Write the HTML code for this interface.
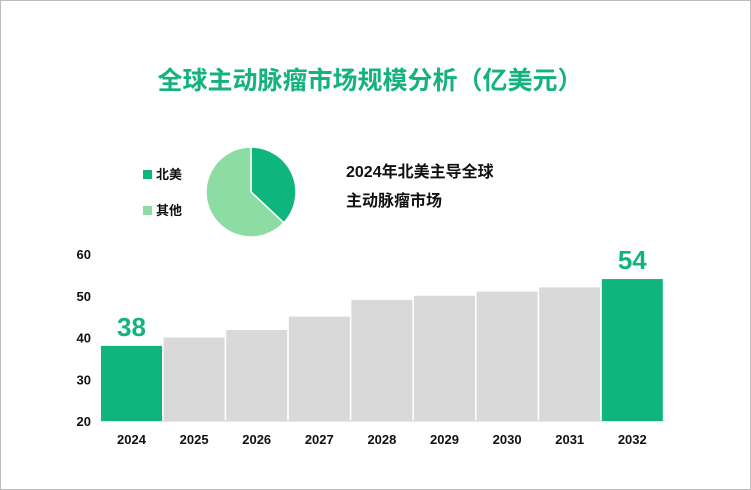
<!DOCTYPE html>
<html><head><meta charset="utf-8"><style>
body{margin:0;background:#fff;font-family:"Liberation Sans","Noto Sans CJK SC",sans-serif;}
#wrap{position:relative;width:749px;height:488px;border:1px solid #bbb;background:#fff;overflow:hidden;}
</style></head><body>
<div id="wrap">
<svg id="svg" width="749" height="488">
<text x="369" y="88" text-anchor="middle" font-size="25" font-weight="bold" fill="#14b27c">全球主动脉瘤市场规模分析（亿美元）</text>
<rect x="142" y="169" width="9" height="9" fill="#10b57d"/>
<text x="155" y="178" font-size="13" font-weight="bold" fill="#111">北美</text>
<rect x="142" y="205" width="9" height="9" fill="#8cdca4"/>
<text x="155" y="214" font-size="13" font-weight="bold" fill="#111">其他</text>
<text x="345" y="176" font-size="16" font-weight="bold" fill="#111">2024年北美主导全球</text>
<text x="345" y="205" font-size="16" font-weight="bold" fill="#111">主动脉瘤市场</text>
<g id="pie"></g><g id="axis"></g><g id="bars"></g>
</svg></div>
<script>
const pieLabels=["北美","其他"];
const pieValues=[37,63];
const years=["2024","2025","2026","2027","2028","2029","2030","2031","2032"];
const values=[38,40,41.8,45,49,50,51,52,54];
const yTicks=[20,30,40,50,60];
const NS="http://www.w3.org/2000/svg";
function mk(t,a,p){const e=document.createElementNS(NS,t);for(const k in a)e.setAttribute(k,a[k]);p.appendChild(e);return e;}
const cx=250,cy=191,r=45,pie=document.getElementById('pie');
const tot=pieValues.reduce((a,b)=>a+b,0);let ang=0;const cols=["#10b57d","#8cdca4"];
pieValues.forEach((v,i)=>{const a0=ang,a1=ang+v/tot*2*Math.PI;ang=a1;
const x0=cx+r*Math.sin(a0),y0=cy-r*Math.cos(a0),x1=cx+r*Math.sin(a1),y1=cy-r*Math.cos(a1);
const p=mk('path',{d:`M${cx},${cy}L${x0},${y0}A${r},${r} 0 ${a1-a0>Math.PI?1:0} 1 ${x1},${y1}Z`,fill:cols[i],stroke:"#fff","stroke-width":1.5},pie);

});
const y=v=>420-(v-20)*(420-253)/40;
const ax=document.getElementById('axis'),bg=document.getElementById('bars');
yTicks.forEach(t=>{const e=mk('text',{x:90,y:y(t)+5,"text-anchor":"end","font-size":13,"font-weight":"bold",fill:"#111"},ax);e.textContent=t;

});
const x0=100,step=62.6,bw=61;
years.forEach((yr,i)=>{const hi=(i===0||i===years.length-1);const bx=x0+i*step;
const b=mk('rect',{x:bx,y:y(values[i]),width:bw,height:420-y(values[i]),fill:hi?"#10b57d":"#d9d9d9"},bg);


const t=mk('text',{x:bx+bw/2,y:443,"text-anchor":"middle","font-size":13,"font-weight":"bold",fill:"#111"},ax);t.textContent=yr;


if(hi){const l=mk('text',{x:bx+bw/2,y:y(values[i])-10,"text-anchor":"middle","font-size":26,"font-weight":"bold",fill:"#10b57d"},bg);l.textContent=values[i];

}});
mk('line',{x1:100,y1:420,x2:664,y2:420,stroke:"#ccc"},ax);
</script>
</body></html>
